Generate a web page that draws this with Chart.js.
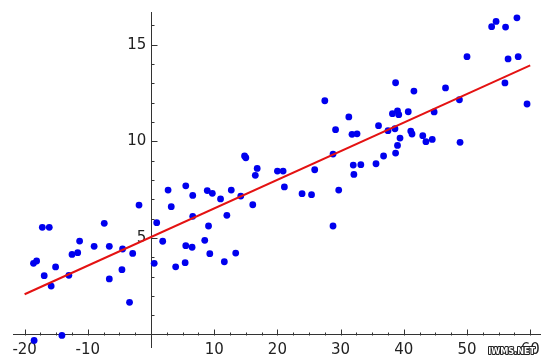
<!DOCTYPE html>
<html>
<head>
<meta charset="utf-8">
<script src="https://cdn.jsdelivr.net/npm/chart.js@4.4.0/dist/chart.umd.min.js"></script>
<style>
  body { margin: 0; background: #fff; }
</style>
</head>
<body>
<canvas id="chart" width="550" height="363"></canvas>
<script>
// scatter samples
const xValues = [
  -18.5, -18.6, -18.1, -17.2, -16.1, -16.9, -15.8, -15.1, -14.1, -13.0, -12.5, -11.6,
  -11.3, -9.0, -7.4, -6.6, -6.6, -4.5, -4.6, -3.4, -2.9, -1.9, 0.9, 0.5,
  1.85, 2.7, 3.2, 3.9, 5.4, 5.5, 5.5, 6.5, 6.6, 6.6, 8.5, 8.9, 9.1, 9.3, 9.7,
  11.0, 11.6, 12.0, 12.7, 13.4, 14.2, 14.8, 15.0, 16.1, 16.5, 16.8, 20.0, 20.9, 21.1,
  23.9, 25.4, 25.9, 27.5, 28.8, 28.8, 29.2, 29.7, 31.3, 31.8, 32.6, 32.0, 32.1, 33.2,
  35.6, 36.0, 36.8, 37.5, 38.2, 38.7, 38.6, 39.0, 39.2, 39.4, 39.0, 38.7, 40.7, 41.1,
  41.3, 41.6, 43.0, 43.5, 44.5, 44.8, 46.6, 48.8, 48.9, 50.0, 53.9, 54.6, 56.1, 57.9,
  56.5, 58.1, 56.0, 59.5
];
const yValues = [
  -0.3, 3.69, 3.81, 5.55, 5.55, 3.05, 2.51, 3.5, -0.04, 3.07, 4.15, 4.24,
  4.84, 4.57, 5.76, 4.57, 2.88, 4.43, 3.36, 1.67, 4.2, 6.7, 5.79, 3.69,
  4.83, 7.48, 6.62, 3.51, 3.72, 4.6, 7.7, 4.52, 7.2, 6.12, 4.88, 7.45, 5.62, 4.19, 7.31,
  7.02, 3.77, 6.17, 7.48, 4.22, 7.17, 9.24, 9.15, 6.72, 8.24, 8.6, 8.46, 8.46, 7.64,
  7.29, 7.24, 8.53, 12.1, 9.34, 5.62, 10.6, 7.48, 11.26, 10.36, 10.39, 8.77, 8.29, 8.79,
  8.84, 10.81, 9.24, 10.55, 11.43, 13.03, 10.65, 11.58, 11.38, 10.17, 9.79, 9.39, 11.53, 10.53,
  10.38, 12.6, 10.29, 9.98, 10.1, 11.52, 12.76, 12.15, 9.95, 14.38, 15.93, 16.2, 15.91, 16.39,
  14.26, 14.38, 13.02, 11.93
];

// fitted line end points
const fitX = [-20, 60];
const fitY = [2.09, 13.93];

// axis labels
const xTickLabels = [-20, -10, 10, 20, 30, 40, 50, 60];
const yTickLabels = [5, 10, 15];

const axisColor = '#333';

// small tick marks on the axes, major ones a bit longer
const axisTicks = {
  id: 'axisTicks',
  afterDraw(chart) {
    const { ctx, scales: { x, y } } = chart;
    const x0 = Math.round(x.getPixelForValue(0)) + 0.5;
    const y0 = Math.round(y.getPixelForValue(0)) + 0.5;
    ctx.save();
    ctx.strokeStyle = axisColor;
    ctx.lineWidth = 1;
    ctx.beginPath();
    for (let v = -20; v <= 60; v += 2.5) {
      if (v === 0) continue;
      const px = Math.round(x.getPixelForValue(v)) + 0.5;
      const len = v % 10 === 0 ? 6 : 3;
      ctx.moveTo(px, y0);
      ctx.lineTo(px, y0 - len);
    }
    for (let v = 1; v <= 16; v++) {
      const py = Math.round(y.getPixelForValue(v)) + 0.5;
      const len = v % 5 === 0 ? 6 : 3;
      ctx.moveTo(x0, py);
      ctx.lineTo(x0 + len, py);
    }
    ctx.stroke();

    // watermark in the corner
    ctx.font = 'bold 9px "Liberation Sans Narrow", "DejaVu Sans Condensed", sans-serif';
    ctx.textAlign = 'right';
    ctx.textBaseline = 'middle';
    ctx.lineJoin = 'round';
    ctx.lineWidth = 2;
    ctx.strokeStyle = '#222';
    ctx.strokeText('IWMS.NET', 535, 352);
    ctx.fillStyle = '#fff';
    ctx.fillText('IWMS.NET', 535, 352);
    ctx.restore();
  }
};

new Chart(document.getElementById('chart'), {
  type: 'scatter',
  data: {
    datasets: [
      {
        label: 'fit',
        type: 'line',
        data: fitX.map((v, i) => ({ x: v, y: fitY[i] })),
        borderColor: '#e41212',
        borderWidth: 2,
        pointRadius: 0,
        fill: false
      },
      {
        label: 'samples',
        data: xValues.map((v, i) => ({ x: v, y: yValues[i] })),
        backgroundColor: '#0000ee',
        borderWidth: 0,
        pointRadius: 3.4
      }
    ]
  },
  options: {
    responsive: false,
    animation: false,
    layout: { padding: { left: 13, right: 10, top: 12, bottom: 16 } },
    plugins: {
      legend: { display: false },
      tooltip: { enabled: false }
    },
    scales: {
      x: {
        type: 'linear',
        min: -21.84,
        max: 61.55,
        position: { y: 0 },
        border: { color: axisColor, width: 1 },
        grid: { drawOnChartArea: false, drawTicks: false },
        ticks: {
          padding: 6,
          color: '#222',
          font: { family: 'DejaVu Sans', size: 15 }
        },
        afterBuildTicks: s => { s.ticks = xTickLabels.map(v => ({ value: v })); },
        afterFit: s => { s.height = 0; }
      },
      y: {
        type: 'linear',
        min: -0.64,
        max: 16.69,
        position: { x: 0 },
        border: { color: axisColor, width: 1 },
        grid: { drawOnChartArea: false, drawTicks: false },
        ticks: {
          color: '#222',
          font: { family: 'DejaVu Sans', size: 15 },
          // labels sit right against a centred axis, keep a small gap
          callback: v => v + ' '
        },
        afterBuildTicks: s => { s.ticks = yTickLabels.map(v => ({ value: v })); },
        afterFit: s => { s.width = 0; }
      }
    }
  },
  plugins: [axisTicks]
});
</script>
</body>
</html>
